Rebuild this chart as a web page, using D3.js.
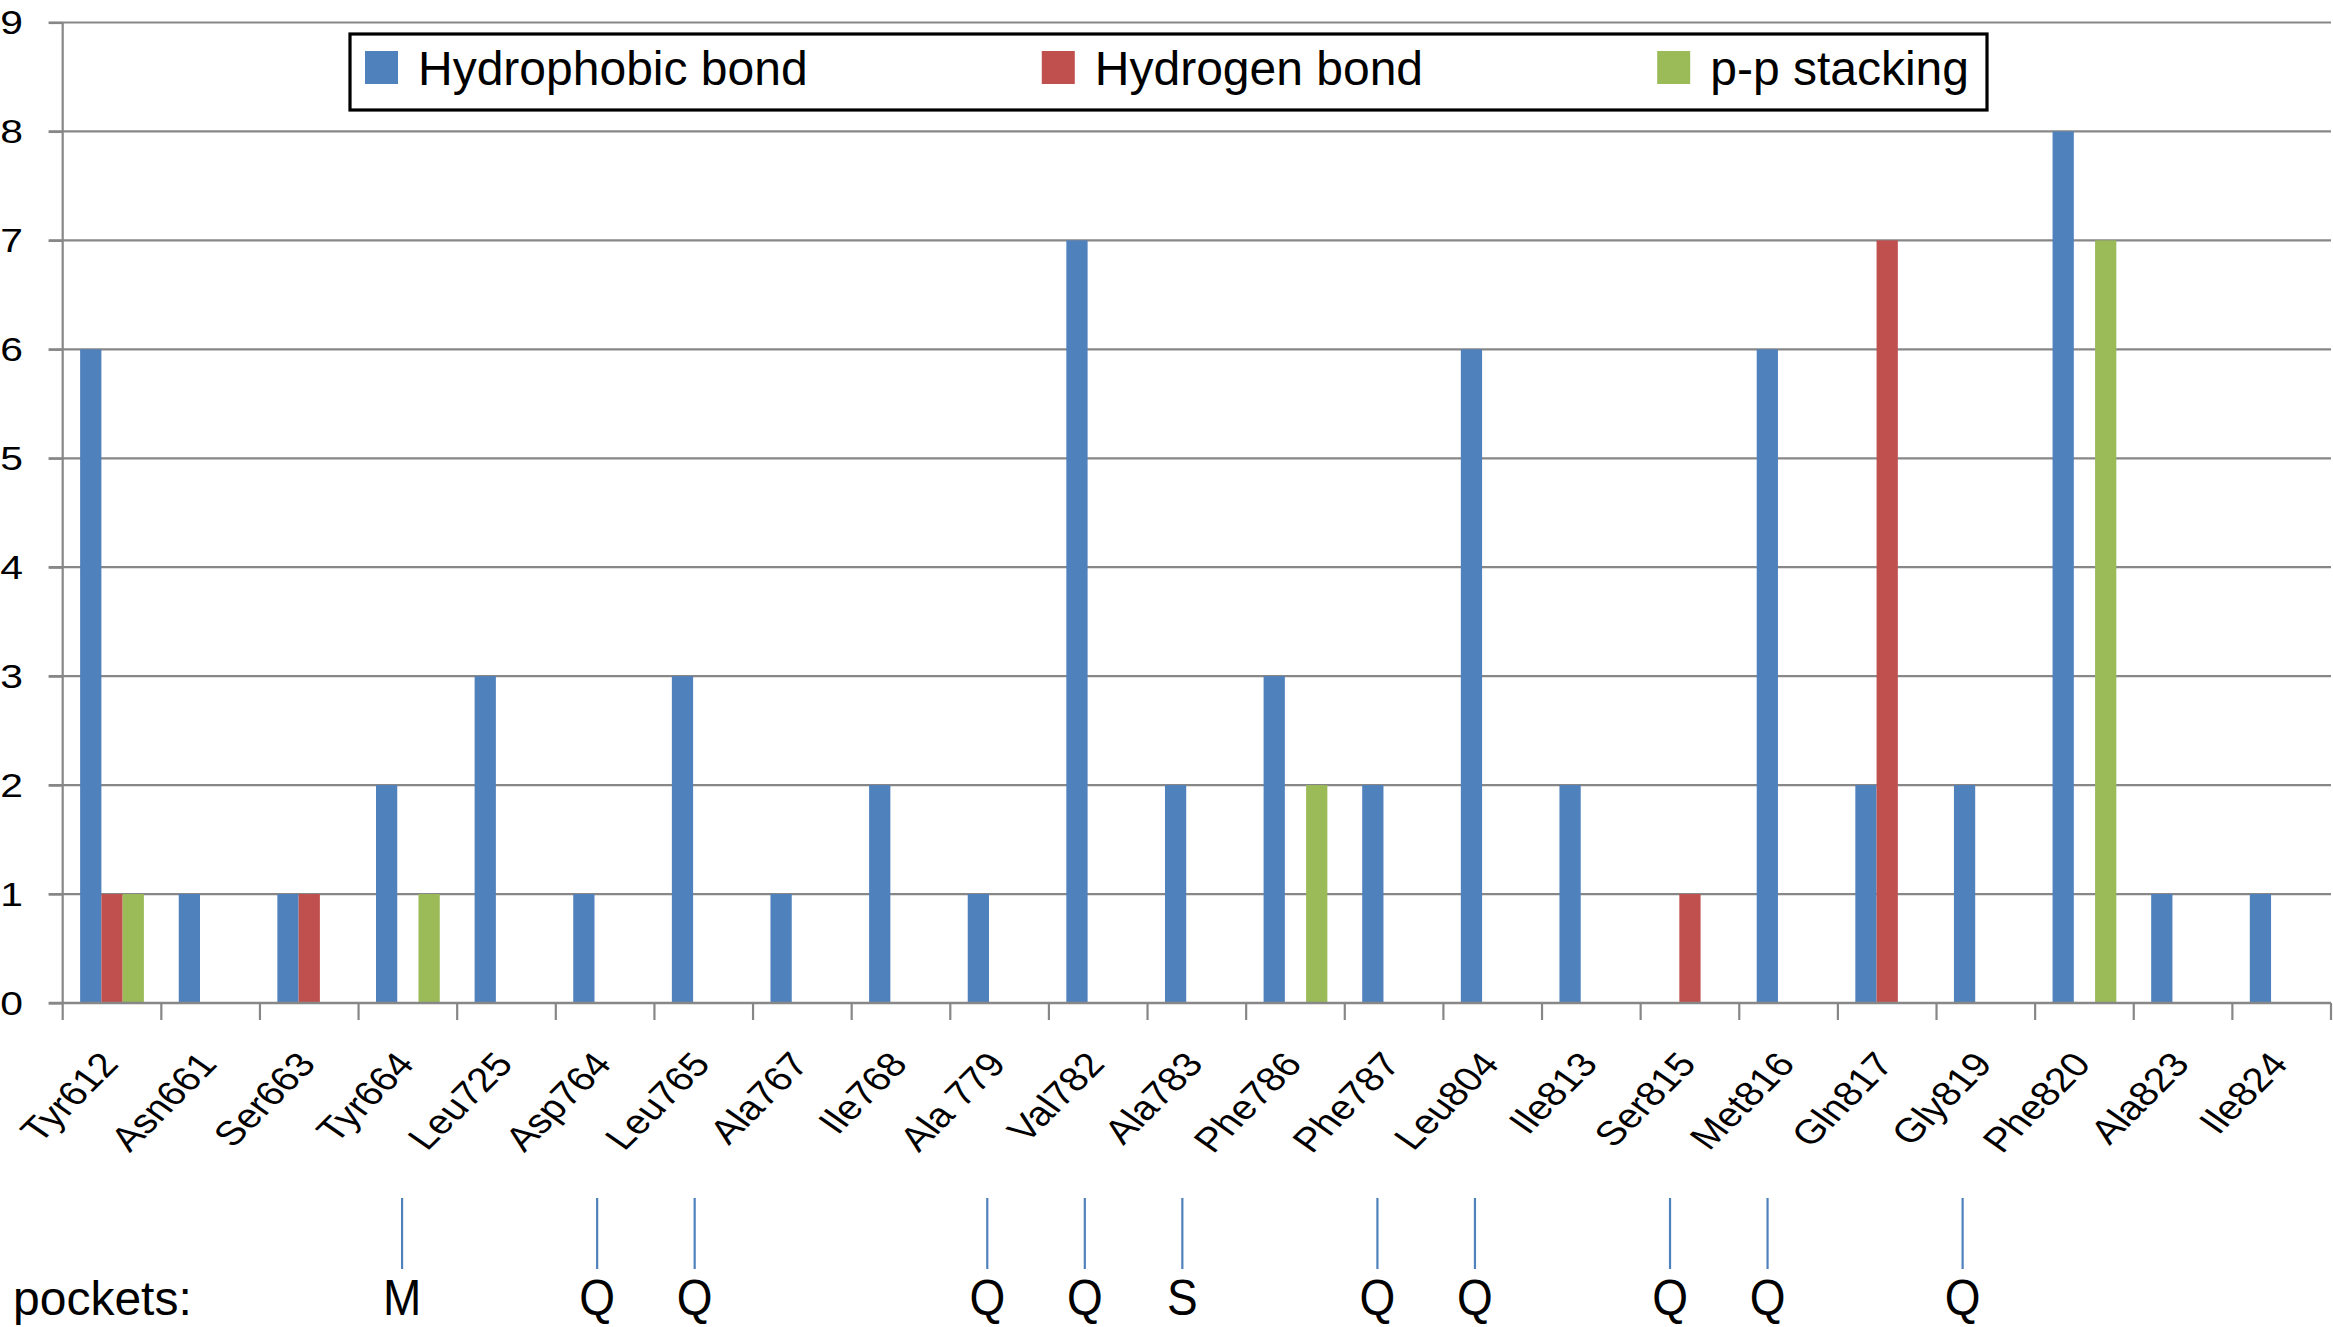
<!DOCTYPE html>
<html>
<head>
<meta charset="utf-8">
<script src="https://cdn.jsdelivr.net/npm/d3@7"></script>
<style>
  html, body { margin: 0; padding: 0; background: #fff; }
  svg { display: block; }
  text { font-family: "Liberation Sans", Arial, Helvetica, sans-serif; fill: #000; }
</style>
</head>
<body>
<svg id="chart" width="2333" height="1327"></svg>
<script>
// ---- data ----
const categories = ["Tyr612","Asn661","Ser663","Tyr664","Leu725","Asp764","Leu765","Ala767","Ile768","Ala 779","Val782","Ala783","Phe786","Phe787","Leu804","Ile813","Ser815","Met816","Gln817","Gly819","Phe820","Ala823","Ile824"];
const seriesNames = ["Hydrophobic bond","Hydrogen bond","p-p stacking"];
const hydrophobic = [6,1,1,2,3,1,3,1,2,1,7,2,3,2,6,2,0,6,2,2,8,1,1];
const hydrogen    = [1,0,1,0,0,0,0,0,0,0,0,0,0,0,0,0,1,0,7,0,0,0,0];
const stacking    = [1,0,0,1,0,0,0,0,0,0,0,0,2,0,0,0,0,0,0,0,7,0,0];
const yTicks = [0,1,2,3,4,5,6,7,8,9];
const pocketResidues = ["Tyr664","Asp764","Leu765","Ala 779","Val782","Ala783","Phe787","Leu804","Ser815","Met816","Gly819"];
const pocketLetters  = ["M","Q","Q","Q","Q","S","Q","Q","Q","Q","Q"];
const pocketTitle = "pockets:";

// ---- layout ----
const colors = ["#4F81BD","#C0504D","#9BBB59"];
const axisX = 62.7, plotRight = 2331, yTop = 22.5, yBase = 1003;
const gridColor = "#878787";
const stretch = 1.2; // horizontal stretch of the chart-area text

const svg = d3.select("#chart");

const x0 = d3.scaleBand().domain(categories).range([axisX, plotRight]).paddingInner(0).paddingOuter(0);
const x1 = d3.scaleBand().domain(seriesNames).range([0, x0.bandwidth()]).paddingInner(0).paddingOuter(0.82);
const y = d3.scaleLinear().domain([0, 9]).range([yBase, yTop]);

const seriesValues = [hydrophobic, hydrogen, stacking];
const rows = [];
categories.forEach((c, i) => {
  seriesNames.forEach((s, j) => rows.push({cat: c, series: s, value: seriesValues[j][i], color: colors[j]}));
});

// gridlines
svg.append("g").selectAll("line").data(yTicks.filter(d => d > 0)).join("line")
  .attr("x1", axisX - 14).attr("x2", plotRight)
  .attr("y1", d => y(d)).attr("y2", d => y(d))
  .attr("stroke", gridColor).attr("stroke-width", 2.2);

// bars
svg.append("g").selectAll("rect").data(rows.filter(r => r.value > 0)).join("rect")
  .attr("x", d => x0(d.cat) + x1(d.series))
  .attr("width", x1.bandwidth())
  .attr("y", d => y(d.value))
  .attr("height", d => y(0) - y(d.value))
  .attr("fill", d => d.color);

// y axis (line + tick marks from axis generator, labels stretched)
const yAxis = d3.axisLeft(y).tickValues(yTicks).tickSize(14).tickFormat("");
const gy = svg.append("g").attr("transform", `translate(${axisX},0)`).call(yAxis);
gy.select(".domain").attr("stroke", gridColor).attr("stroke-width", 2.2).attr("d", `M0,${yTop}V${yBase}`);
gy.selectAll(".tick line").attr("stroke", gridColor).attr("stroke-width", 2.2);
svg.append("g").selectAll("text").data(yTicks).join("text")
  .attr("transform", d => `translate(23,${y(d)}) scale(${stretch},1)`)
  .attr("dy", "0.35em")
  .attr("text-anchor", "end")
  .attr("font-size", 34)
  .text(d3.format("d"));

// x axis
const xBoundaries = categories.map(c => x0(c)).concat([plotRight]);
svg.append("line").attr("x1", axisX - 14).attr("x2", plotRight).attr("y1", yBase).attr("y2", yBase)
  .attr("stroke", gridColor).attr("stroke-width", 2.6);
svg.append("g").selectAll("line").data(xBoundaries).join("line")
  .attr("x1", d => d).attr("x2", d => d).attr("y1", yBase).attr("y2", yBase + 17)
  .attr("stroke", gridColor).attr("stroke-width", 2.2);

// x labels
svg.append("g").selectAll("text").data(categories).join("text")
  .attr("transform", d => `translate(${x0(d) + x0.bandwidth() / 2 + 8},${yBase + 62}) scale(${stretch},1) rotate(-50)`)
  .attr("text-anchor", "end")
  .attr("font-size", 34)
  .text(d => d);

// legend
const lg = svg.append("g").attr("transform", "translate(350,34)");
const lgW = 1637, lgH = 76;
lg.append("rect").attr("width", lgW).attr("height", lgH).attr("fill", "#fff")
  .attr("stroke", "#000").attr("stroke-width", 3.2);
const items = lg.selectAll("g.item").data(seriesNames).join("g").attr("class", "item");
items.append("rect").attr("width", 33).attr("height", 33).attr("y", 17).attr("fill", (d, i) => colors[i]);
items.append("text").attr("x", 53).attr("y", 50.5).attr("font-size", 48).text(d => d);
const widths = [];
items.each(function() { widths.push(53 + this.querySelector("text").getComputedTextLength()); });
const padL = 15, padR = 18;
const gap = (lgW - padL - padR - d3.sum(widths)) / (seriesNames.length - 1);
let cx = padL;
items.each(function(d, i) { d3.select(this).attr("transform", `translate(${cx},0)`); cx += widths[i] + gap; });

// pockets annotation
const pocketX = d3.scaleLinear().domain([axisX, plotRight]).range([axisX - 2, plotRight - 27]);
const pockets = pocketResidues.map((r, i) => ({res: r, letter: pocketLetters[i]}));
const pg = svg.append("g");
pg.selectAll("line").data(pockets).join("line")
  .attr("x1", d => pocketX(x0(d.res) + x0.bandwidth() / 2))
  .attr("x2", d => pocketX(x0(d.res) + x0.bandwidth() / 2))
  .attr("y1", 1198).attr("y2", 1269)
  .attr("stroke", "#4F81BD").attr("stroke-width", 2.2);
pg.selectAll("text").data(pockets).join("text")
  .attr("transform", d => `translate(${pocketX(x0(d.res) + x0.bandwidth() / 2)},1315) scale(0.92,1)`)
  .attr("text-anchor", "middle")
  .attr("font-size", 50)
  .text(d => d.letter);
svg.append("text").attr("x", 13).attr("y", 1315).attr("font-size", 48).text(pocketTitle);
</script>
</body>
</html>
